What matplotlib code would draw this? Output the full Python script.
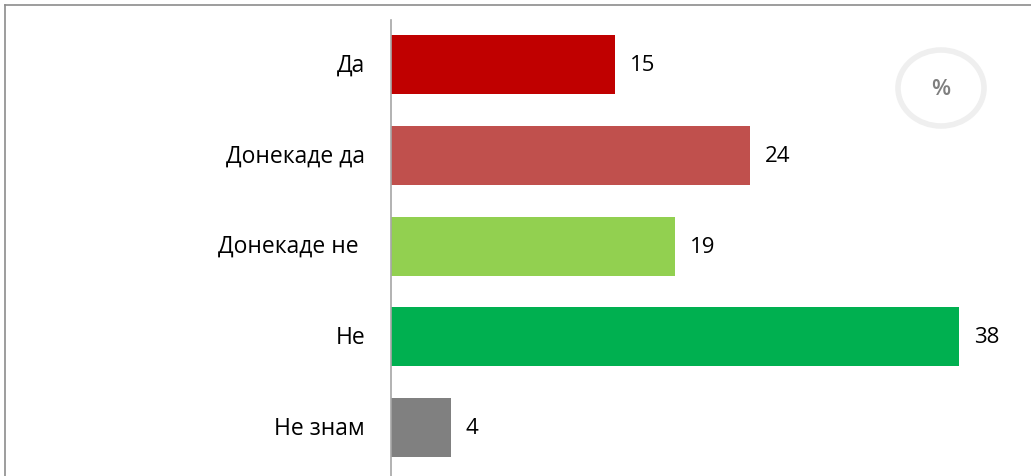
import matplotlib.pyplot as plt
from matplotlib.patches import Ellipse
from matplotlib.lines import Line2D

categories = ['Да', 'Донекаде да', 'Донекаде не ', 'Не', 'Не знам']
values = [15, 24, 19, 38, 4]
colors = ['#C00000', '#C0504D', '#92D050', '#00B050', '#808080']

plt.rcParams['font.family'] = ['Open Sans', 'DejaVu Sans']

W, H = 1031, 477
fig = plt.figure(figsize=(W / 100, H / 100), dpi=100)

# axes: y axis line at x=391, top at y=21
ax = fig.add_axes([391 / W, 0, (W - 391) / W, 1 - 21 / H])
pos = list(range(len(categories)))
ax.barh(pos, values, height=0.65, color=colors)
ax.set_xlim(0, (W - 391) / 14.95)
ax.set_ylim(4.534, -0.49)

for p, v in zip(pos, values):
    ax.annotate(str(v), (v, p), xytext=(15, 0), textcoords='offset pixels',
                va='center', ha='left', fontsize=16, color='black')
for p, c in zip(pos, categories):
    ax.annotate(c, (0, p), xytext=(-26, 0), textcoords='offset pixels',
                va='center', ha='right', fontsize=16.5, color='black')

for s in ['top', 'right', 'bottom']:
    ax.spines[s].set_visible(False)
ax.spines['left'].set_color('#A6A6A6')
ax.spines['left'].set_linewidth(1.2)
ax.set_xticks([])
ax.set_yticks([])

# outer frame (top and left edges)
fig.add_artist(Line2D([5 / W, 1], [1 - 6 / H, 1 - 6 / H], transform=fig.transFigure,
                      color='#8C8C8C', lw=1.2))
fig.add_artist(Line2D([5 / W, 5 / W], [0, 1 - 6 / H], transform=fig.transFigure,
                      color='#8C8C8C', lw=1.2))

# percent badge
fig.add_artist(Ellipse((941 / W, 1 - 89 / H), 86 / W, 76 / H, transform=fig.transFigure,
                       fill=False, edgecolor='#EFEFEF', lw=4))
fig.text(941 / W, 1 - 90 / H, '%', ha='center', va='center', fontsize=16,
         color='#7F7F7F', fontweight='semibold')

fig.savefig('out.png', dpi=100)
